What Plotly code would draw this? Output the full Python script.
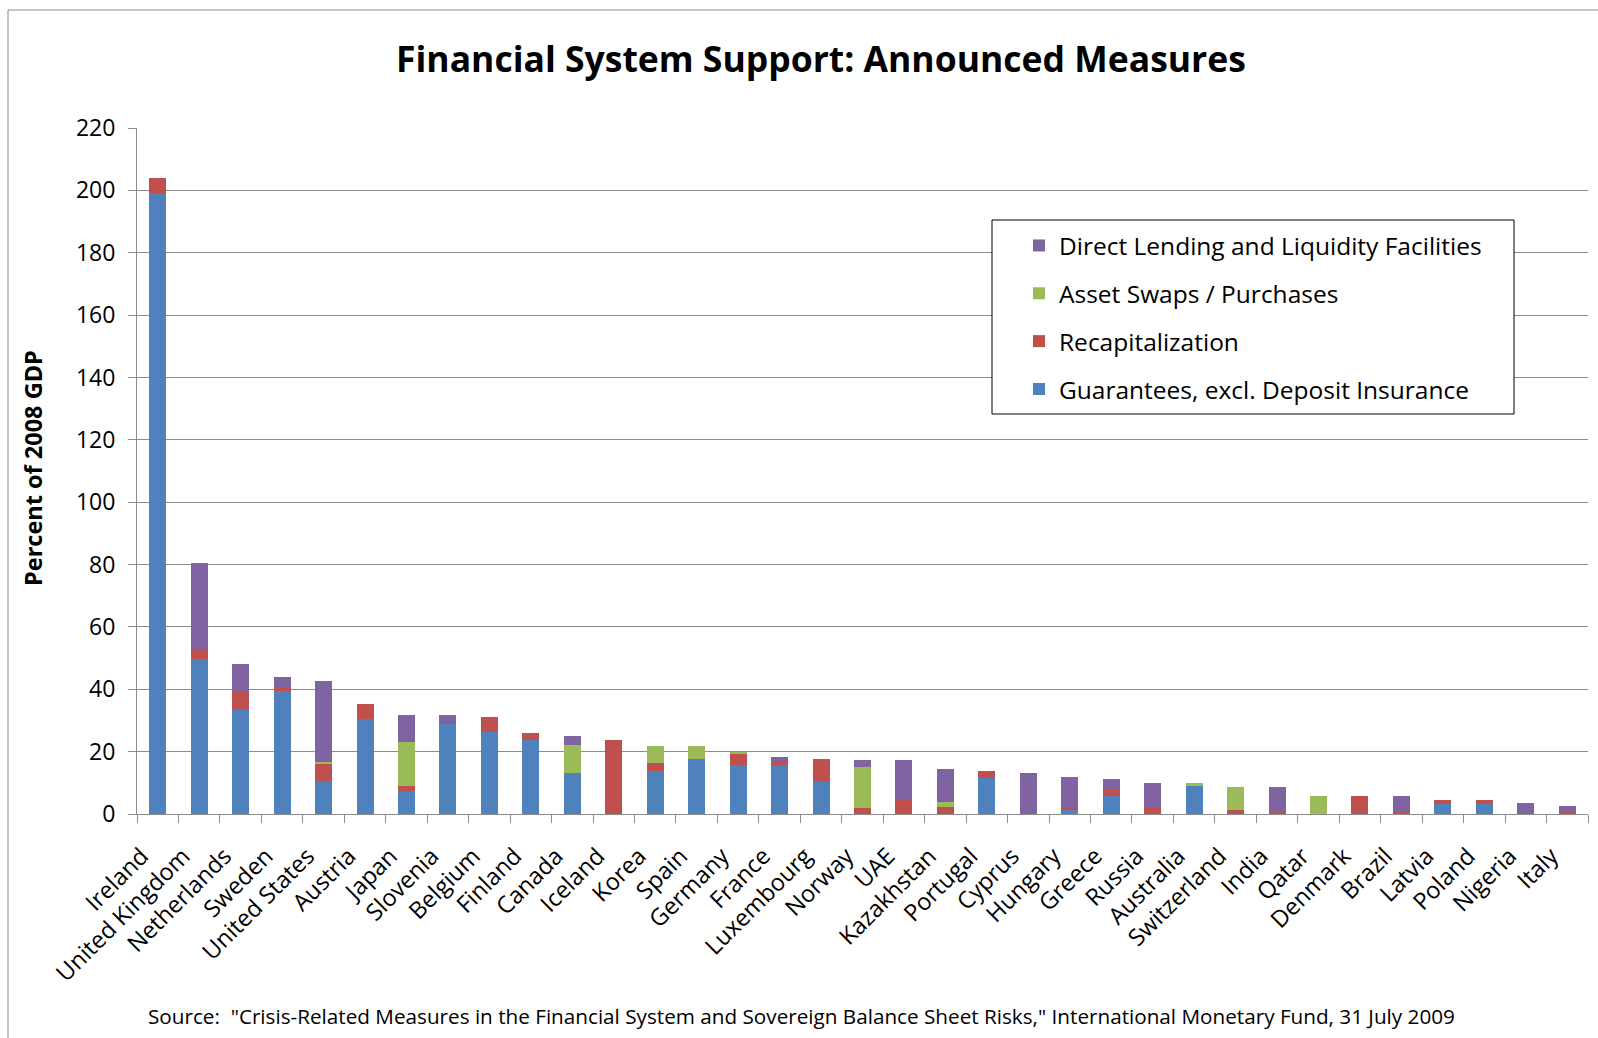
import plotly.graph_objects as go

countries = [
    "Ireland", "United Kingdom", "Netherlands", "Sweden", "United States",
    "Austria", "Japan", "Slovenia", "Belgium", "Finland", "Canada", "Iceland",
    "Korea", "Spain", "Germany", "France", "Luxembourg", "Norway", "UAE",
    "Kazakhstan", "Portugal", "Cyprus", "Hungary", "Greece", "Russia",
    "Australia", "Switzerland", "India", "Qatar", "Denmark", "Brazil",
    "Latvia", "Poland", "Nigeria", "Italy",
]

# Percent of 2008 GDP, by type of measure
guarantees = [
    199.0, 49.6, 33.7, 39.7, 10.6, 30.4, 7.3, 28.9, 26.2, 23.8, 13.1, 0.0,
    13.8, 17.5, 15.6, 15.6, 10.3, 0.0, 0.0, 0.0, 11.5, 0.0, 1.2, 5.9, 0.0,
    9.1, 0.0, 0.0, 0.0, 0.0, 0.0, 3.1, 3.1, 0.0, 0.0,
]
recapitalization = [
    5.0, 3.4, 5.9, 0.6, 5.3, 4.8, 1.8, 0.0, 4.8, 2.3, 0.0, 23.8,
    2.4, 0.0, 3.5, 1.3, 7.5, 1.8, 4.6, 2.4, 2.2, 0.0, 1.2, 1.9, 1.8,
    0.0, 1.2, 0.5, 0.0, 5.9, 0.5, 1.5, 1.5, 0.0, 0.5,
]
asset_swaps = [
    0.0, 0.0, 0.0, 0.0, 0.7, 0.0, 14.1, 0.0, 0.0, 0.0, 9.1, 0.0,
    5.7, 4.4, 0.9, 0.0, 0.0, 13.2, 0.0, 1.3, 0.0, 0.0, 0.0, 0.0, 0.0,
    0.9, 7.5, 0.0, 5.9, 0.0, 0.0, 0.0, 0.0, 0.0, 0.0,
]
direct_lending = [
    0.0, 27.4, 8.5, 3.6, 25.9, 0.0, 8.4, 2.7, 0.0, 0.0, 2.8, 0.0,
    0.0, 0.0, 0.0, 1.5, 0.0, 2.2, 12.6, 10.6, 0.0, 13.1, 9.4, 3.5, 8.2,
    0.0, 0.0, 8.2, 0.0, 0.0, 5.4, 0.0, 0.0, 3.4, 2.2,
]

y_ticks = [0, 20, 40, 60, 80, 100, 120, 140, 160, 180, 200, 220]

# stacking order bottom -> top; legend lists them top -> bottom
series = [
    ("Guarantees, excl. Deposit Insurance", guarantees, "#4F81BD", 4),
    ("Recapitalization", recapitalization, "#C0504D", 3),
    ("Asset Swaps / Purchases", asset_swaps, "#9BBB59", 2),
    ("Direct Lending and Liquidity Facilities", direct_lending, "#8064A2", 1),
]

FONT = "'Open Sans', Lato, sans-serif"

fig = go.Figure()
for name, vals, color, rank in series:
    fig.add_trace(go.Bar(
        x=countries, y=vals, name=name, legendgroup=name, legendrank=rank,
        marker=dict(color=color, line=dict(width=0)),
    ))

W, H = 1598, 1038
L, R, T, B = 137, 1588, 128, 814


def px(xpix):
    return (xpix - L) / (R - L)


def py(ypix):
    return (B - ypix) / (B - T)


# legend frame (pixel box)
LEG_X0, LEG_X1, LEG_Y0, LEG_Y1 = 992, 1514, 220, 414

fig.update_layout(
    width=W, height=H,
    margin=dict(l=L, r=W - R, t=T, b=H - B, autoexpand=False),
    barmode="stack", bargap=0.59,
    paper_bgcolor="white", plot_bgcolor="white",
    font=dict(family=FONT, color="black"),
    showlegend=True,
    legend=dict(
        x=px(1019), y=py(223),
        xanchor="left", yanchor="top",
        traceorder="grouped", tracegroupgap=13,
        borderwidth=0, bgcolor="rgba(0,0,0,0)",
        font=dict(size=24.5, family=FONT),
    ),
    xaxis=dict(
        tickangle=-45, tickfont=dict(size=23.5),
        showline=True, linecolor="#8c8c8c", linewidth=1,
        ticks="outside", ticklen=8, tickcolor="#8c8c8c", tickson="boundaries",
        ticklabelstandoff=18, ticklabelshift=-16,
        showgrid=False, fixedrange=True,
    ),
    yaxis=dict(
        range=[0, 220], tickvals=y_ticks, tickfont=dict(size=23),
        showline=True, linecolor="#8c8c8c", linewidth=1,
        ticks="outside", ticklen=8, tickcolor="#8c8c8c",
        showgrid=True, gridcolor="#8c8c8c", gridwidth=1,
        zeroline=False, ticklabelstandoff=8,
    ),
    annotations=[
        dict(text="<b>Financial System Support: Announced Measures</b>",
             xref="paper", yref="paper", x=px(821), y=py(58),
             xanchor="center", yanchor="middle", showarrow=False,
             font=dict(size=35.5, family=FONT)),
        dict(text="<b>Percent of 2008 GDP</b>", textangle=-90,
             xref="paper", yref="paper", x=px(33), y=py(468),
             xanchor="center", yanchor="middle", showarrow=False,
             font=dict(size=23.5, family=FONT)),
        dict(text='Source:  "Crisis-Related Measures in the Financial System and Sovereign '
                  'Balance Sheet Risks," International Monetary Fund, 31 July 2009',
             xref="paper", yref="paper", x=px(801), y=py(1016),
             xanchor="center", yanchor="middle", showarrow=False,
             font=dict(size=20.7, family=FONT)),
    ],
    shapes=[
        # legend frame
        dict(type="rect", xref="paper", yref="paper",
             x0=px(LEG_X0), x1=px(LEG_X1), y0=py(LEG_Y1), y1=py(LEG_Y0),
             fillcolor="white", line=dict(color="black", width=1), layer="above"),
        # frame edges at the top and left of the chart area
        dict(type="line", xref="paper", yref="paper",
             x0=px(8), x1=px(W), y0=py(10), y1=py(10),
             line=dict(color="#8c8c8c", width=1)),
        dict(type="line", xref="paper", yref="paper",
             x0=px(8), x1=px(8), y0=py(10), y1=py(H),
             line=dict(color="#8c8c8c", width=1)),
    ],
)

fig.write_html("out.html")
